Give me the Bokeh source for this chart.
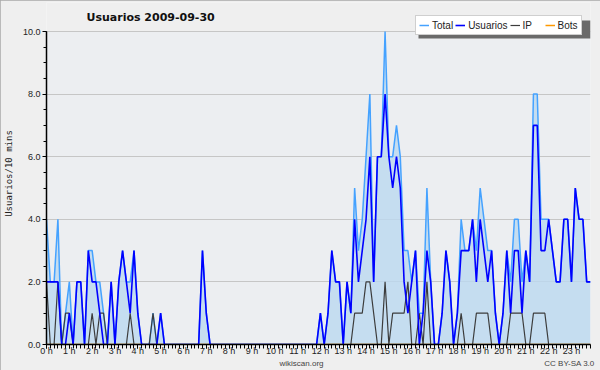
from bokeh.plotting import figure
from bokeh.models import (Range1d, FixedTicker, PrintfTickFormatter, Legend, LinearAxis,
                          LegendItem, Label, BoxAnnotation, ColumnDataSource)
from bokeh.embed import file_html
from bokeh.resources import INLINE

# ---- data: 144 ten-minute slots (24 per row = 4 hours) ----
total = [
    4, 2, 2, 4, 0, 1, 2, 0, 2, 2, 0, 3, 3, 2, 2, 1, 0, 2, 0, 2, 3, 2, 2, 3,
    1, 0, 0, 0, 1, 0, 1, 0, 0, 0, 0, 0, 0, 0, 0, 0, 0, 3, 1, 0, 0, 0, 0, 0,
    0, 0, 0, 0, 0, 0, 0, 0, 0, 0, 0, 0, 0, 0, 0, 0, 0, 0, 0, 0, 0, 0, 0, 0,
    1, 0, 1, 3, 2, 2, 0, 2, 1, 5, 3, 4, 6, 8, 2, 6, 6, 10, 6, 6, 7, 6, 3, 3,
    2, 3, 1, 1, 5, 2, 0, 0, 1, 3, 2, 0, 1, 4, 3, 3, 4, 3, 5, 4, 3, 3, 1, 0,
    1, 3, 2, 4, 4, 2, 3, 2, 8, 8, 4, 4, 4, 3, 2, 2, 4, 4, 2, 5, 4, 4, 2, 2,
]
usuarios = [
    2, 2, 2, 2, 0, 0, 1, 0, 2, 2, 0, 3, 2, 2, 1, 0, 0, 2, 0, 2, 3, 2, 1, 3,
    1, 0, 0, 0, 0, 0, 1, 0, 0, 0, 0, 0, 0, 0, 0, 0, 0, 3, 1, 0, 0, 0, 0, 0,
    0, 0, 0, 0, 0, 0, 0, 0, 0, 0, 0, 0, 0, 0, 0, 0, 0, 0, 0, 0, 0, 0, 0, 0,
    1, 0, 1, 3, 2, 2, 0, 2, 1, 4, 2, 3, 4, 6, 2, 6, 6, 8, 6, 5, 6, 5, 2, 1,
    2, 3, 0, 1, 3, 2, 0, 0, 1, 3, 2, 0, 1, 3, 3, 3, 4, 2, 4, 3, 2, 3, 1, 0,
    1, 3, 1, 3, 3, 1, 3, 2, 7, 7, 3, 3, 4, 3, 2, 2, 4, 4, 2, 5, 4, 4, 2, 2,
]
ip = [
    2, 0, 0, 2, 0, 1, 1, 0, 0, 0, 0, 0, 1, 0, 1, 1, 0, 0, 0, 0, 0, 0, 1, 0,
    0, 0, 0, 0, 1, 0, 0, 0, 0, 0, 0, 0, 0, 0, 0, 0, 0, 0, 0, 0, 0, 0, 0, 0,
    0, 0, 0, 0, 0, 0, 0, 0, 0, 0, 0, 0, 0, 0, 0, 0, 0, 0, 0, 0, 0, 0, 0, 0,
    0, 0, 0, 0, 0, 0, 0, 0, 0, 1, 1, 1, 2, 2, 1, 0, 0, 2, 0, 1, 1, 1, 1, 2,
    0, 0, 1, 0, 2, 0, 0, 0, 0, 0, 0, 0, 0, 1, 0, 0, 0, 1, 1, 1, 1, 0, 0, 0,
    0, 0, 1, 1, 1, 1, 0, 0, 1, 1, 1, 1, 0, 0, 0, 0, 0, 0, 0, 0, 0, 0, 0, 0,
]
bots = [
    0, 0, 0, 0, 0, 0, 0, 0, 0, 0, 0, 0, 0, 0, 0, 0, 0, 0, 0, 0, 0, 0, 0, 0,
    0, 0, 0, 0, 0, 0, 0, 0, 0, 0, 0, 0, 0, 0, 0, 0, 0, 0, 0, 0, 0, 0, 0, 0,
    0, 0, 0, 0, 0, 0, 0, 0, 0, 0, 0, 0, 0, 0, 0, 0, 0, 0, 0, 0, 0, 0, 0, 0,
    0, 0, 0, 0, 0, 0, 0, 0, 0, 0, 0, 0, 0, 0, 0, 0, 0, 0, 0, 0, 0, 0, 0, 0,
    0, 0, 0, 0, 0, 0, 0, 0, 0, 0, 0, 0, 0, 0, 0, 0, 0, 0, 0, 0, 0, 0, 0, 0,
    0, 0, 0, 0, 0, 0, 0, 0, 0, 0, 0, 0, 0, 0, 0, 0, 0, 0, 0, 0, 0, 0, 0, 0,
]
hour_ticks = list(range(24))
y_ticks = [0, 2, 4, 6, 8, 10]
y_max = 10
title_text = "Usuarios  2009-09-30"
y_label = "Usuarios/10 mins"
footer_texts = ["wikiscan.org", "CC BY-SA 3.0"]
series_names = ["Total", "Usuarios", "IP", "Bots"]

slots = [i / 6 for i in range(len(total))]
src = ColumnDataSource(dict(x=slots, total=total, usuarios=usuarios, ip=ip, bots=bots))

# frame spans from the top of the canvas to the x axis; the value axis stops at 10
FW, FH = 544, 342
PLOT_H = 313                       # pixel height of 0..10
y_top = y_max * FH / PLOT_H
footer_pos = [255, 523]            # pixel centres of the footer texts within the frame width

p = figure(frame_width=FW, frame_height=FH, title=None,
           min_border_left=46, min_border_right=10, min_border_top=2, min_border_bottom=20,
           x_range=Range1d(0, slots[-1]), y_range=Range1d(0, y_top),
           output_backend="svg", toolbar_location=None,
           background_fill_color="#efefef", border_fill_color="#efefef",
           outline_line_color=None,
           styles={"outline": "2px solid #a9a9a9", "outline-offset": "-2px"})
p.extra_x_ranges = {"footer": Range1d(0, FW)}

# plot-area background (0..10)
p.add_layout(BoxAnnotation(bottom=0, top=y_max, fill_color="#eceef1", fill_alpha=1,
                           line_color=None, level="image"))

p.varea(x="x", y1=0, y2="total", source=src, fill_color="#bcd8f0", fill_alpha=0.8)
r_bots = p.line("x", "bots", source=src, line_color="#ff9900", line_width=1.5)
r_total = p.line("x", "total", source=src, line_color="#45a2ff", line_width=1.5)
r_ip = p.line("x", "ip", source=src, line_color="#3c3c3c", line_width=1.2)
r_usr = p.line("x", "usuarios", source=src, line_color="#0000ff", line_width=1.6)

# axes
p.xgrid.visible = False
p.ygrid.grid_line_color = "#c6c6c6"
p.ygrid.ticker = FixedTicker(ticks=y_ticks)

xa = p.xaxis[0]
xa.ticker = FixedTicker(ticks=hour_ticks, minor_ticks=slots)
xa.formatter = PrintfTickFormatter(format="%d h")
ya = p.yaxis[0]
ya.ticker = FixedTicker(ticks=y_ticks, minor_ticks=[i * 0.5 for i in range(21)])
ya.formatter = PrintfTickFormatter(format="%.1f")
ya.bounds = (0, y_max)
ya.axis_label = y_label

for ax in (xa, ya):
    ax.axis_line_color = "black"
    ax.axis_line_width = 1.5
    ax.major_tick_line_color = "black"
    ax.minor_tick_line_color = "black"
    ax.major_tick_in = 0
    ax.minor_tick_in = 0
    ax.major_label_text_font = "Liberation Sans"
    ax.major_label_text_font_size = "9px"
    ax.major_label_text_color = "#222222"
    ax.axis_label_text_font_style = "normal"
    ax.axis_label_text_color = "#222222"

xa.major_tick_out = 4
xa.minor_tick_out = 4
xa.major_label_standoff = -3
ya.major_tick_out = 4
ya.minor_tick_out = 3
ya.major_label_standoff = 2
ya.axis_label_standoff = 6
ya.axis_label_text_font = "DejaVu Sans Mono"
ya.axis_label_text_font_size = "9px"

# footer row: site name and licence, both on one line below the hour labels
footer = LinearAxis(x_range_name="footer", ticker=FixedTicker(ticks=footer_pos),
                    major_label_overrides=dict(zip(footer_pos, footer_texts)),
                    axis_line_color=None, major_tick_line_color=None,
                    minor_tick_line_color=None, major_tick_out=0, minor_tick_out=0,
                    major_tick_in=0, minor_tick_in=0, major_label_standoff=0,
                    major_label_text_font="Liberation Sans",
                    major_label_text_font_size="8px", major_label_text_color="#444444")
p.add_layout(footer, "below")

# title (inside the tall frame, above the 10.0 line)
p.add_layout(Label(x=40, y=FH - 15, x_units="screen", y_units="screen",
                   text=title_text, text_font="DejaVu Sans", text_font_style="bold",
                   text_font_size="11px", text_baseline="middle", text_color="#111111"))

# legend shadow + legend
LW, LH = 172, 18
LX, LY = FW - LW - 3, FH - 33
p.add_layout(BoxAnnotation(left=LX + 3, right=LX + LW + 3, bottom=LY - 3, top=LY + LH - 3,
                           left_units="screen", right_units="screen",
                           bottom_units="screen", top_units="screen",
                           fill_color="#6a6a6a", fill_alpha=1, line_color=None))
legend = Legend(items=[LegendItem(label=series_names[0], renderers=[r_total]),
                       LegendItem(label=series_names[1], renderers=[r_usr]),
                       LegendItem(label=series_names[2], renderers=[r_ip]),
                       LegendItem(label=series_names[3], renderers=[r_bots])],
                orientation="horizontal", location=(LX, LY),
                label_text_font="Liberation Sans", label_text_font_size="10px",
                label_text_color="#222222", label_height=12, glyph_height=12,
                glyph_width=10, label_standoff=3, spacing=2, padding=3, margin=0,
                border_line_color="#a0a0a0", border_line_width=1,
                background_fill_color="white", background_fill_alpha=1)
p.add_layout(legend, "center")

open("out.html", "w").write(file_html(p, INLINE))
